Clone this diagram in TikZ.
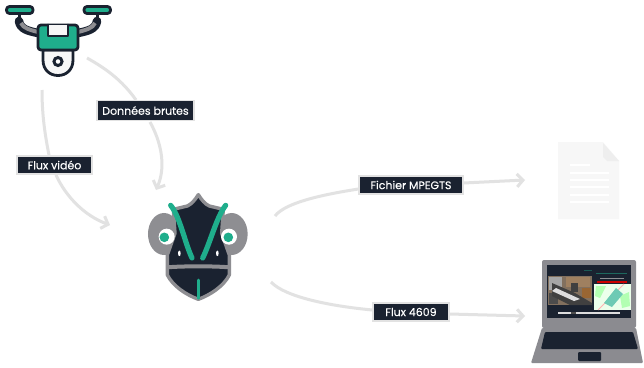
\documentclass[tikz,border=0pt]{standalone}
\usepackage{fontspec}
\setmainfont{Poppins}[FakeBold=0.25]
\usetikzlibrary{arrows.meta}
\definecolor{ink}{HTML}{1A2230}
\definecolor{teal}{HTML}{1FAE8C}
\definecolor{midgray}{HTML}{8E8E92}
\definecolor{wire}{HTML}{E2E2E2}
\definecolor{paper}{HTML}{F7F7F7}
\definecolor{fold}{HTML}{EEEEEE}
\definecolor{laptopgray}{HTML}{8B8B90}
\tikzset{
  tag/.style={draw=wire,line width=1.2pt,fill=ink,text=white,inner sep=0pt,font=\fontsize{11}{12}\selectfont,anchor=center},
  wireline/.style={draw=wire,line width=3pt},
  wirearrow/.style={wireline,-{Straight Barb[length=6pt,width=13pt,line width=3pt]}},
  droneline/.style={draw=ink,line width=2.8pt,line join=round,line cap=round},
  docline/.style={draw=white,line width=1.2pt},
  sat/.style={fill=#1}
}
\begin{document}
\begin{tikzpicture}[x=1pt,y=-1pt]
\useasboundingbox (0,0) rectangle (644,367);
\fill[white] (0,0) rectangle (644,367);

% labels
\node[tag,minimum width=97pt,minimum height=20pt] (brutes) at (145.5,110.5) {Données brutes};
\node[tag,minimum width=75pt,minimum height=18pt] (video) at (54.5,165) {Flux vidéo};
\node[tag,minimum width=104pt,minimum height=18pt] (mpeg) at (411,185) {Fichier MPEGTS};
\node[tag,minimum width=76pt,minimum height=18pt] (f4609) at (411,312) {Flux 4609};

% connector ends
\coordinate (droneA) at (87,58);
\coordinate (droneB) at (42,90);
\coordinate (chamA) at (156,190);
\coordinate (chamB) at (110,225);
\coordinate (chamC) at (275,216);
\coordinate (chamD) at (271,282);
\coordinate (docIn) at (525,180);
\coordinate (lapIn) at (525,316);

% connectors
\draw[wireline] (droneA) .. controls (105,68) and (122,80) .. (136,100);
\draw[wirearrow] (150,122) .. controls (160,140) and (167,165) .. (chamA);
\draw[wireline] (droneB) .. controls (42,115) and (45,135) .. (49,155);
\draw[wirearrow] (56,175) .. controls (66,197) and (85,216) .. (chamB);
\draw[wireline] (chamC) .. controls (285,203) and (320,195) .. (mpeg.west |- 0,189);
\draw[wirearrow] (mpeg.east |- 0,183) -- (docIn);
\draw[wireline] (chamD) .. controls (285,297) and (330,306) .. (f4609.west |- 0,310);
\draw[wirearrow] (f4609.east |- 0,314) -- (lapIn);

% drone
\draw[draw=ink,line width=8.5pt,line cap=round,line join=round] (19,21) .. controls (20,29) and (28,31) .. (38,33);
\draw[draw=ink,line width=8.5pt,line cap=round,line join=round] (97,21) .. controls (96,29) and (88,31) .. (78,33);
\draw[draw=ink,line width=3pt] (19,13) -- (19,21);
\draw[draw=ink,line width=3pt] (97,13) -- (97,21);
\draw[draw=midgray,line width=4pt] (21,23) .. controls (23,28) and (30,30) .. (38,32);
\draw[draw=midgray,line width=4pt] (95,23) .. controls (93,28) and (86,30) .. (78,32);
\draw[droneline,fill=teal,rounded corners=3pt] (6.5,6.5) rectangle (33,13.5);
\draw[droneline,fill=teal,rounded corners=3pt] (84,6.5) rectangle (110.5,13.5);
\draw[droneline,fill=paper] (43,50) -- (43,60) .. controls (43,70) and (50,75.5) .. (58,75.5) .. controls (66,75.5) and (73,70) .. (73,60) -- (73,50) -- cycle;
\draw[droneline,fill=teal,rounded corners=3pt] (38,25) rectangle (78,50);
\draw[droneline,fill=paper] (48,25) -- (48,36) -- (68,36) -- (68,25);
\draw[draw=ink,line width=3pt,fill=white] (58,61.5) circle (4pt);

% chameleon
\begin{scope}[shift={(130,180)},x=0.3333pt,y=-0.3333pt]
  \fill[midgray] (102,162) ellipse (16pt and 21pt);
  \fill[midgray] (305,162) ellipse (16pt and 21pt);
  \path[draw=midgray,line width=3.4pt,fill=ink,line join=round]
    (205,44) .. controls (195,60) and (185,72) .. (172,78) -- (130,88)
    -- (135,160) -- (112,225) -- (112,285) .. controls (130,320) and (170,345) .. (205,358)
    .. controls (240,345) and (280,320) .. (298,285) -- (298,225) -- (275,160) -- (280,88) -- (238,78)
    .. controls (225,72) and (215,60) .. cycle;
  \fill[white] (110,170) circle (8pt);
  \fill[white] (297,170) circle (8pt);
  \fill[teal] (103,172) circle (4.8pt);
  \fill[teal] (295,172) circle (4.8pt);
  \draw[midgray,line width=4pt] (112,262) .. controls (160,258) and (250,258) .. (298,262);
  \draw[teal,line width=5.2pt,line cap=round] (122,76) .. controls (150,110) and (165,190) .. (186,234);
  \draw[teal,line width=5.2pt,line cap=round] (287,76) .. controls (260,110) and (240,190) .. (218,234);
  \fill[white] (148,220) ellipse (1.3pt and 2.8pt);
  \fill[white] (262,220) ellipse (1.3pt and 2.8pt);
  \draw[teal,line width=2.8pt,line cap=round] (205,300) -- (205,355);
\end{scope}

% document
\path[fill=paper] (558,142) -- (603,142) -- (619,161) -- (619,219) -- (558,219) -- cycle;
\path[fill=fold] (603,143) -- (619,161) -- (607,161) -- (603,157) -- cycle;
\draw[docline] (570,165) -- (590,165);
\draw[docline] (570,173) -- (609,173);
\draw[docline] (570,180) -- (609,180);
\draw[docline] (570,187) -- (609,187);
\draw[docline] (570,195) -- (609,195);
\draw[docline] (570,202) -- (609,202);

% laptop
\fill[laptopgray,rounded corners=2pt] (542,260) rectangle (636,328);
\fill[ink] (547,265) rectangle (631,318);
\path[fill=laptopgray,rounded corners=1pt] (542,328) -- (636,328) -- (643,363) -- (531,363) -- cycle;
\path[fill=ink,rounded corners=1pt] (545,332) -- (633,332) -- (638,349) -- (541,349) -- cycle;
\fill[ink,rounded corners=1pt] (578,352) rectangle (601,361);
% aerial picture
\fill[black!60!brown!70!white] (548,276) rectangle (592,305);
\fill[black!35] (549,277) rectangle (562,290);
\fill[brown!50!gray] (566,277) rectangle (590,287);
\fill[black!75] (571,283) rectangle (578,292);
\fill[black!20!brown] (582,288) rectangle (591,298);
\fill[black!70] (549,293) rectangle (558,304);
\fill[black!75] (552,283) -- (575,293) -- (592,303) -- (592,305) -- (570,305) -- (552,296) -- cycle;
\fill[white!70!midgray] (556,288) -- (580,299) -- (574,301) -- (552,291) -- cycle;
% map
\fill[white!92!green] (594,284) rectangle (631,310);
\fill[green!30!white] (596,286) -- (606,286) -- (600,298) -- (595,296) -- cycle;
\fill[green!30!white] (620,296) -- (629,292) -- (630,306) -- (622,308) -- cycle;
\draw[red!30!white,line width=1pt] (598,310) -- (624,284);
\fill[teal!65!white] (604,303) -- (616,288) -- (623,294) -- (612,307) -- cycle;
\fill[red!80!black] (597,281) rectangle (627,283);
% timeline and header
\draw[white!70!midgray,line width=1.4pt] (558,313) -- (620,313);
\draw[black!70,line width=1.4pt] (571,313) -- (576,313);
\draw[teal!50!ink,line width=1pt] (596,273) -- (627,273);
\draw[teal!40!ink,line width=0.8pt] (584,270) -- (592,270);
\draw[midgray,line width=0.8pt] (600,278) -- (624,278);
\end{tikzpicture}
\end{document}
